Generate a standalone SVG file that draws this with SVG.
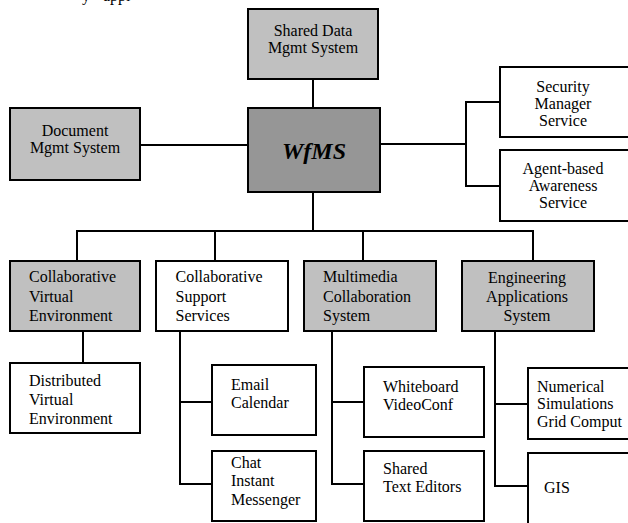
<svg xmlns="http://www.w3.org/2000/svg" width="628" height="523" viewBox="0 0 628 523">
<style>
  text { font-family: "Liberation Serif", "Times New Roman", serif; font-size: 16px; fill: #000; }
  .c { text-anchor: middle; }
  .box { stroke: #000; stroke-width: 2; fill: #fff; }
  .gray { fill: #c0c0c0; }
  .dark { fill: #969696; }
  .conn path { fill: none; stroke: #000; stroke-width: 2; }
  .big { font-size: 24px; font-weight: bold; font-style: italic; }
</style>
<rect width="628" height="523" fill="#fff"/>
<text x="82" y="0.5" font-size="20" word-spacing="9">y appl</text>

<g class="conn">
  <path d="M313,80 V108"/>
  <path d="M140,145 H248"/>
  <path d="M500,102 H466 V186 H500 M380,144 H466"/>
  <path d="M313,192 V231"/>
  <path d="M76,231 H534 M77,231 V261 M215,231 V261 M363,231 V261 M533,231 V261"/>
  <path d="M83,331 V363"/>
  <path d="M180,331 V484 H212 M180,402 H212"/>
  <path d="M332,331 V484 H364 M332,402 H364"/>
  <path d="M495,331 V486 H528 M495,404 H528"/>
</g>

<g id="shared-data">
  <rect class="box gray" x="248" y="9" width="130" height="70"/>
  <text class="c" x="313" y="35.5">Shared Data</text>
  <text class="c" x="313" y="52.5">Mgmt System</text>
</g>
<g id="wfms">
  <rect class="box dark" x="248" y="108" width="132" height="84"/>
  <text class="c big" x="314" y="159">WfMS</text>
</g>
<g id="document">
  <rect class="box gray" x="10" y="108" width="130" height="72"/>
  <text class="c" x="75" y="135.5">Document</text>
  <text class="c" x="75" y="152.5">Mgmt System</text>
</g>
<g id="security">
  <rect class="box" x="500" y="67" width="140" height="70"/>
  <text class="c" x="563" y="92">Security</text>
  <text class="c" x="563" y="109">Manager</text>
  <text class="c" x="563" y="125.5">Service</text>
</g>
<g id="agent">
  <rect class="box" x="500" y="150" width="140" height="71"/>
  <text class="c" x="563" y="173.5">Agent-based</text>
  <text class="c" x="563" y="190.5">Awareness</text>
  <text class="c" x="563" y="207.5">Service</text>
</g>
<g id="cve">
  <rect class="box gray" x="10" y="261" width="130" height="70"/>
  <text x="29" y="282">Collaborative</text>
  <text x="29" y="301.5">Virtual</text>
  <text x="29" y="320.5">Environment</text>
</g>
<g id="css">
  <rect class="box" x="156" y="261" width="132" height="70"/>
  <text x="175.5" y="282">Collaborative</text>
  <text x="175.5" y="301.5">Support</text>
  <text x="175.5" y="320.5">Services</text>
</g>
<g id="mcs">
  <rect class="box gray" x="304" y="261" width="132" height="70"/>
  <text x="323" y="282">Multimedia</text>
  <text x="323" y="301.5">Collaboration</text>
  <text x="323" y="320.5">System</text>
</g>
<g id="eas">
  <rect class="box gray" x="462" y="261" width="132" height="70"/>
  <text class="c" x="527" y="283">Engineering</text>
  <text class="c" x="527" y="302">Applications</text>
  <text class="c" x="527" y="320.5">System</text>
</g>
<g id="dve">
  <rect class="box" x="10" y="363" width="130" height="70"/>
  <text x="29" y="386">Distributed</text>
  <text x="29" y="405">Virtual</text>
  <text x="29" y="423.5">Environment</text>
</g>
<g id="email">
  <rect class="box" x="212" y="365" width="104" height="70"/>
  <text x="231" y="390">Email</text>
  <text x="231" y="408">Calendar</text>
</g>
<g id="chat">
  <rect class="box" x="212" y="451" width="104" height="70"/>
  <text x="231" y="467.5">Chat</text>
  <text x="231" y="485.5">Instant</text>
  <text x="231" y="504.5">Messenger</text>
</g>
<g id="whiteboard">
  <rect class="box" x="364" y="367" width="120" height="70"/>
  <text x="383" y="391.5">Whiteboard</text>
  <text x="383" y="410">VideoConf</text>
</g>
<g id="shared-text">
  <rect class="box" x="364" y="451" width="120" height="70"/>
  <text x="383" y="474">Shared</text>
  <text x="383" y="492">Text Editors</text>
</g>
<g id="numerical">
  <rect class="box" x="528" y="368" width="120" height="71"/>
  <text x="537" y="391.5">Numerical</text>
  <text x="537" y="409">Simulations</text>
  <text x="537" y="426.5">Grid Comput</text>
</g>
<g id="gis">
  <rect class="box" x="528" y="453" width="120" height="100"/>
  <text x="544" y="492.5">GIS</text>
</g>
</svg>
